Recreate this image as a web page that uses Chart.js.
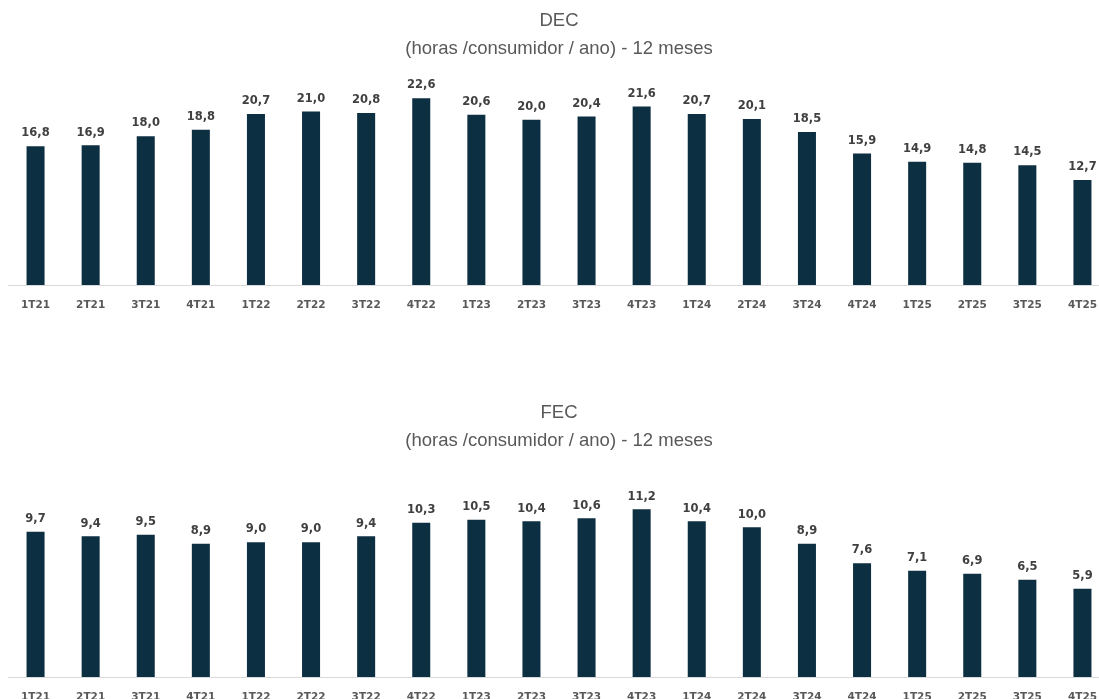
<!DOCTYPE html>
<html>
<head>
<meta charset="utf-8">
<script src="https://cdn.jsdelivr.net/npm/chart.js@4.4.1/dist/chart.umd.min.js"></script>
<style>
  html, body { margin: 0; padding: 0; background: #fff; overflow: hidden; width: 1099px; height: 699px; }
  .box { position: absolute; left: 0; width: 1112px; height: 340px; }
  #boxDec { top: 0; }
  #boxFec { top: 392px; }
</style>
</head>
<body>
<div class="box" id="boxDec"><canvas id="decChart"></canvas></div>
<div class="box" id="boxFec"><canvas id="fecChart"></canvas></div>
<script>
const quarters = ['1T21','2T21','3T21','4T21','1T22','2T22','3T22','4T22','1T23','2T23',
                  '3T23','4T23','1T24','2T24','3T24','4T24','1T25','2T25','3T25','4T25'];
const decValues = [16.8, 16.9, 18.0, 18.8, 20.7, 21.0, 20.8, 22.6, 20.6, 20.0,
                   20.4, 21.6, 20.7, 20.1, 18.5, 15.9, 14.9, 14.8, 14.5, 12.7];
const fecValues = [9.7, 9.4, 9.5, 8.9, 9.0, 9.0, 9.4, 10.3, 10.5, 10.4,
                   10.6, 11.2, 10.4, 10.0, 8.9, 7.6, 7.1, 6.9, 6.5, 5.9];
const subtitleText = '(horas /consumidor / ano) - 12 meses';
const barColor = '#0d2f42';

// rotulos de valor em cima das barras
const valueLabels = {
    id: 'valueLabels',
    afterDatasetsDraw(chart) {
        const ctx = chart.ctx;
        const meta = chart.getDatasetMeta(0);
        const data = chart.data.datasets[0].data;
        ctx.save();
        ctx.font = 'bold 11.5px "DejaVu Sans"';
        ctx.fillStyle = '#404040';
        ctx.textAlign = 'center';
        ctx.textBaseline = 'bottom';
        meta.data.forEach(function (bar, i) {
            ctx.fillText(data[i].toFixed(1).replace('.', ','), bar.x, bar.y - 7);
        });
        ctx.restore();
    }
};

function barStats(canvasId, title, values, yMax) {
    const ctx = document.getElementById(canvasId).getContext('2d');
    return new Chart(ctx, {
        type: 'bar',
        data: {
            labels: quarters,
            datasets: [{
                label: title,
                data: values,
                backgroundColor: barColor,
                borderWidth: 0,
                barPercentage: 1,
                categoryPercentage: 0.327
            }]
        },
        options: {
            responsive: true,
            maintainAspectRatio: false,
            animation: false,
            layout: { padding: { left: 8, right: 2, top: 0, bottom: 15 } },
            plugins: {
                legend: { display: false },
                tooltip: { enabled: false },
                title: {
                    display: true,
                    text: title,
                    color: '#595959',
                    font: { family: '"Liberation Sans"', size: 18.5, weight: 'normal' },
                    padding: { top: 10, bottom: 6 }
                },
                subtitle: {
                    display: true,
                    text: subtitleText,
                    color: '#595959',
                    font: { family: '"Liberation Sans"', size: 18.5, weight: 'normal' },
                    padding: { top: 0, bottom: 18 }
                }
            },
            scales: {
                x: {
                    grid: { display: false },
                    border: { display: true, color: '#d9d9d9', width: 1 },
                    ticks: {
                        color: '#595959',
                        font: { family: '"DejaVu Sans"', size: 10.5, weight: 'bold' },
                        padding: 6,
                        maxRotation: 0,
                        autoSkip: false
                    },
                    afterFit(scale) { scale.height = 40; }
                },
                y: {
                    display: false,
                    min: 0,
                    max: yMax
                }
            }
        },
        plugins: [valueLabels]
    });
}

barStats('decChart', 'DEC', decValues, 25);
barStats('fecChart', 'FEC', fecValues, 13.8);
</script>
</body>
</html>
